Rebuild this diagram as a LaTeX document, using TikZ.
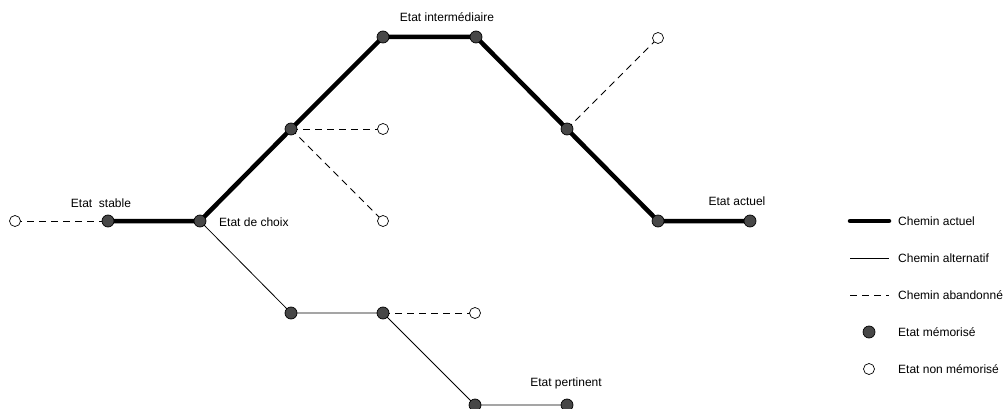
\documentclass[tikz,border=0pt]{standalone}
\usepackage{fontspec}
\setmainfont{Liberation Sans}
\begin{document}
\begin{tikzpicture}[x=1pt,y=-1pt,
  full/.style={circle,draw=black,fill=black!72,minimum size=12pt,inner sep=0pt,line width=0.7pt},
  empty/.style={circle,draw=black,fill=white,minimum size=11pt,inner sep=0pt,line width=0.7pt},
  actuel/.style={line width=4.5pt},
  alt/.style={line width=0.8pt},
  aband/.style={line width=0.8pt,dash pattern=on 7pt off 5pt},
  lbl/.style={font=\fontsize{12}{13}\selectfont,inner sep=0pt}]
\useasboundingbox (0,0) rectangle (1006,409);
% main path
\coordinate (o0) at (15,221);
\coordinate (st) at (108,221);
\coordinate (ch) at (200,221);
\coordinate (m1) at (291,129);
\coordinate (i1) at (383,37);
\coordinate (i2) at (476,37);
\coordinate (m2) at (567,129);
\coordinate (a1) at (658,221);
\coordinate (ac) at (750,221);
\coordinate (e1) at (383,129);
\coordinate (e2) at (383,221);
\coordinate (e3) at (658,38);
\coordinate (l1) at (291,313);
\coordinate (l2) at (383,313);
\coordinate (e4) at (475,313);
\coordinate (p1) at (475,405);
\coordinate (p2) at (567,405);
% lines
\draw[aband] (o0) -- (st);
\draw[aband] (m1) -- (e1);
\draw[aband] (m1) -- (e2);
\draw[aband] (m2) -- (e3);
\draw[aband] (l2) -- (e4);
\draw[alt] (ch) -- (l1) -- (l2) -- (p1) -- (p2);
\draw[actuel,line join=round] (st) -- (ch) -- (m1) -- (i1) -- (i2) -- (m2) -- (a1) -- (ac);
% nodes
\node[empty] (n0) at (o0) {};
\foreach \p in {st,ch,m1,i1,i2,m2,a1,ac,l1,l2,p1,p2} \node[full] (n\p) at (\p) {};
\foreach \p in {e1,e2,e3,e4} \node[empty] (n\p) at (\p) {};
% labels
\node[lbl] (t1) at (101,203) {Etat\ \ stable};
\node[lbl,anchor=west] (t2) at (219,222) {Etat de choix};
\node[lbl] (t3) at (447,17) {Etat intermédiaire};
\node[lbl] (t4) at (737,201) {Etat actuel};
\node[lbl] (t5) at (566,383) {Etat pertinent};
% legend
\coordinate (g1a) at (850,221); \coordinate (g1b) at (889,221);
\coordinate (g2a) at (850,258); \coordinate (g2b) at (889,258);
\coordinate (g3a) at (850,295); \coordinate (g3b) at (889,295);
\draw[actuel,line cap=round] (g1a) -- (g1b);
\draw[alt] (g2a) -- (g2b);
\draw[aband] (g3a) -- (g3b);
\node[full] (g4) at (869,332) {};
\node[empty] (g5) at (869,369) {};
\node[lbl,anchor=west] (tg1) at (898,221) {Chemin actuel};
\node[lbl,anchor=west] (tg2) at (898,258) {Chemin alternatif};
\node[lbl,anchor=west] (tg3) at (898,295) {Chemin abandonné};
\node[lbl,anchor=west] (tg4) at (898,332) {Etat mémorisé};
\node[lbl,anchor=west] (tg5) at (898,369) {Etat non mémorisé};
\end{tikzpicture}
\end{document}
